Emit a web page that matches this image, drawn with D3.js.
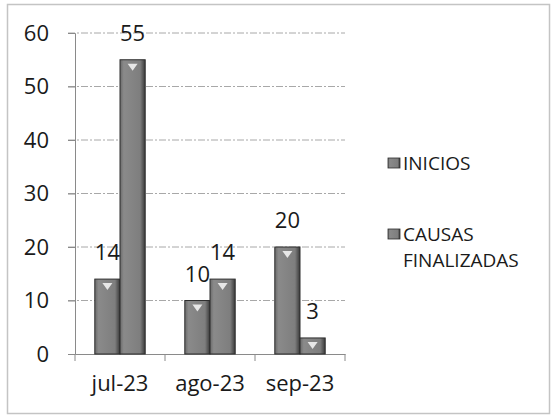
<!DOCTYPE html>
<html><head><meta charset="utf-8">
<script src="https://cdn.jsdelivr.net/npm/d3@7"></script>
<style>html,body{margin:0;padding:0;background:#fff;}svg{display:block;}</style>
</head><body>
<script>
const categories = ["jul-23", "ago-23", "sep-23"];
const seriesNames = ["INICIOS", "CAUSAS FINALIZADAS"];
const inicios = [14, 10, 20];
const causasFinalizadas = [55, 14, 3];
const yTicks = [0, 10, 20, 30, 40, 50, 60];

const W = 551, H = 418;
const svg = d3.select("body").append("svg").attr("width", W).attr("height", H);
const font = "'Open Sans', sans-serif";
const fs = 22;

// outer border
svg.append("rect").attr("x", 7.5).attr("y", 4.5).attr("width", 542).attr("height", 409)
  .attr("fill", "#fff").attr("stroke", "#c4c4c4").attr("stroke-width", 1.5);

const y = d3.scaleLinear().domain([0, 60]).range([354, 33]);
const x = d3.scaleBand().domain(categories).range([75, 345]).paddingInner(0).paddingOuter(0);
const x1 = d3.scaleBand().domain(seriesNames).range([x.bandwidth() * 0.22, x.bandwidth() * 0.78]);

// gridlines
svg.append("g").selectAll("line").data(yTicks.filter(d => d > 0)).join("line")
  .attr("x1", 68).attr("x2", 345).attr("y1", d => y(d)).attr("y2", d => y(d))
  .attr("stroke", "#a8a8a8").attr("stroke-width", 1).attr("stroke-dasharray", "7,2,2,2");

// y axis
const yAxis = svg.append("g").attr("transform", "translate(75,0)")
  .call(d3.axisLeft(y).tickValues(yTicks).tickSize(7).tickPadding(19));
yAxis.select(".domain").attr("stroke", "#8a8a8a");
yAxis.selectAll(".tick line").attr("stroke", "#8a8a8a");
yAxis.selectAll("text").attr("font-family", font).attr("font-size", fs).attr("fill", "#1a1a1a");

// x axis
const xAxis = svg.append("g").attr("transform", "translate(0,354)")
  .call(d3.axisBottom(x).tickSize(0).tickPadding(21));
xAxis.select(".domain").attr("stroke", "#8a8a8a");
xAxis.selectAll("text").attr("font-family", font).attr("font-size", fs).attr("fill", "#1a1a1a");
// category boundary ticks
const bounds = categories.map(c => x(c)).concat([x(categories[categories.length - 1]) + x.bandwidth()]);
svg.append("g").selectAll("line").data(bounds).join("line")
  .attr("x1", d => d).attr("x2", d => d)
  .attr("y1", 354).attr("y2", 361).attr("stroke", "#8a8a8a");

const data = categories.map((c, i) => ({cat: c, vals: [
  {s: seriesNames[0], v: inicios[i]}, {s: seriesNames[1], v: causasFinalizadas[i]}]}));

const defs = svg.append("defs");
const grad = defs.append("linearGradient").attr("id", "barg").attr("x1", 0).attr("x2", 1).attr("y1", 0).attr("y2", 0);
grad.append("stop").attr("offset", "0%").attr("stop-color", "#6a6a6a");
grad.append("stop").attr("offset", "15%").attr("stop-color", "#8a8a8a");
grad.append("stop").attr("offset", "80%").attr("stop-color", "#7e7e7e");
grad.append("stop").attr("offset", "100%").attr("stop-color", "#3a3a3a");

const groups = svg.append("g").selectAll("g").data(data).join("g")
  .attr("transform", d => `translate(${x(d.cat)},0)`);

groups.selectAll("rect").data(d => d.vals).join("rect")
  .attr("x", d => x1(d.s)).attr("width", x1.bandwidth())
  .attr("y", d => y(d.v)).attr("height", d => y(0) - y(d.v))
  .attr("fill", "url(#barg)").attr("stroke", "#2e2e2e").attr("stroke-width", 1);

// small white highlight triangle near top
groups.selectAll("path.hl").data(d => d.vals).join("path").attr("class", "hl")
  .attr("d", d => {
    const cx = x1(d.s) + x1.bandwidth() / 2, ty = y(d.v) + 4;
    return `M${cx-5},${ty}L${cx+5},${ty}L${cx},${ty+7}Z`;
  }).attr("fill", "#f2f2f2").attr("opacity", 0.9);

groups.selectAll("text").data(d => d.vals).join("text")
  .attr("x", d => x1(d.s) + x1.bandwidth() / 2).attr("y", d => y(d.v) - 19)
  .attr("text-anchor", "middle").attr("font-family", font).attr("font-size", fs).attr("fill", "#1a1a1a")
  .text(d => d.v);

// legend
const leg = svg.append("g");
const legItems = [{name: seriesNames[0], lines: ["INICIOS"], y: 163}, {name: seriesNames[1], lines: ["CAUSAS", "FINALIZADAS"], y: 234}];
legItems.forEach(it => {
  leg.append("rect").attr("x", 388).attr("y", it.y - 5).attr("width", 12).attr("height", 10)
    .attr("fill", "url(#barg)").attr("stroke", "#2e2e2e").attr("stroke-width", 0.8);
  const t = leg.append("text").attr("x", 403).attr("y", it.y + 7).attr("font-family", font)
    .attr("font-size", 19).attr("fill", "#1a1a1a");
  it.lines.forEach((l, i) => t.append("tspan").attr("x", 403).attr("dy", i === 0 ? 0 : 26).text(l));
});
</script>
</body></html>
